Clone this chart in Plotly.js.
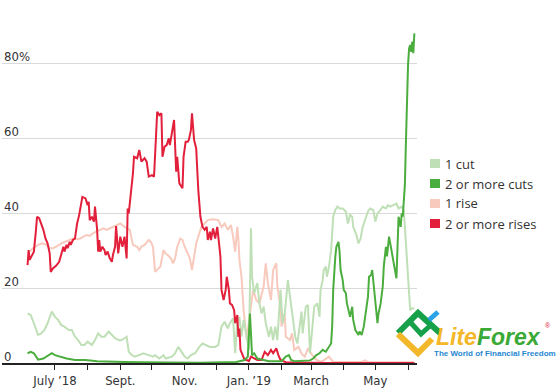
<!DOCTYPE html>
<html>
<head>
<meta charset="utf-8">
<script src="https://cdn.plot.ly/plotly-3.0.1.min.js"></script>
<style>html,body{margin:0;padding:0;background:#fff}#chart{width:557px;height:392px}</style>
</head>
<body>
<div id="chart"></div>
<script>
// ---- Data ----
const seriesNames = ["1 cut", "2 or more cuts", "1 rise", "2 or more rises"];
const seriesColors = ["#bfe0b6", "#4bad3e", "#f8c9bd", "#e2203b"];

const cut1Dates = ["2018-06-05","2018-06-08","2018-06-11","2018-06-15","2018-06-18","2018-06-21","2018-06-24","2018-06-27","2018-06-28","2018-07-01","2018-07-04","2018-07-07","2018-07-10","2018-07-14","2018-07-17","2018-07-20","2018-07-23","2018-07-26","2018-07-29","2018-08-01","2018-08-05","2018-08-08","2018-08-11","2018-08-14","2018-08-17","2018-08-21","2018-08-24","2018-08-27","2018-08-31","2018-09-02","2018-09-05","2018-09-07","2018-09-09","2018-09-12","2018-09-15","2018-09-18","2018-09-23","2018-09-28","2018-10-02","2018-10-04","2018-10-08","2018-10-12","2018-10-14","2018-10-20","2018-10-23","2018-10-26","2018-10-30","2018-11-01","2018-11-04","2018-11-07","2018-11-11","2018-11-15","2018-11-18","2018-11-22","2018-11-25","2018-11-30","2018-12-03","2018-12-06","2018-12-09","2018-12-12","2018-12-14","2018-12-17","2018-12-19","2018-12-21","2018-12-23","2018-12-25","2018-12-27","2018-12-30","2019-01-01","2019-01-03","2019-01-04","2019-01-06","2019-01-09","2019-01-11","2019-01-13","2019-01-15","2019-01-17","2019-01-20","2019-01-22","2019-01-24","2019-01-26","2019-01-28","2019-01-31","2019-02-02","2019-02-04","2019-02-07","2019-02-09","2019-02-12","2019-02-14","2019-02-16","2019-02-18","2019-02-20","2019-02-21","2019-02-23","2019-02-24","2019-02-26","2019-02-28","2019-03-02","2019-03-04","2019-03-07","2019-03-09","2019-03-10","2019-03-12","2019-03-13","2019-03-15","2019-03-16","2019-03-18","2019-03-20","2019-03-22","2019-03-24","2019-03-26","2019-03-28","2019-03-31","2019-04-03","2019-04-05","2019-04-07","2019-04-09","2019-04-10","2019-04-13","2019-04-15","2019-04-17","2019-04-19","2019-04-22","2019-04-24","2019-04-26","2019-04-29","2019-05-01","2019-05-03","2019-05-06","2019-05-08","2019-05-11","2019-05-13","2019-05-15","2019-05-18","2019-05-21","2019-05-23","2019-05-26","2019-05-28","2019-05-30","2019-06-02","2019-06-03","2019-06-05","2019-06-07"];
const cut1Values = [13.2,12.8,10.6,7.5,7.9,8.8,10.6,13.2,13.7,12.3,11.5,10.1,9.7,8.8,8.8,7.0,6.1,4.8,4.8,5.7,4.8,6.1,7.9,7.0,7.0,8.4,7.5,6.6,6.1,6.1,6.6,7.0,3.0,2.1,1.7,2.1,2.6,2.1,1.7,2.1,1.2,2.1,1.2,1.7,2.6,4.3,2.6,1.7,1.2,2.1,2.6,4.3,5.2,4.8,4.3,4.3,4.8,9.7,11.0,9.2,10.6,11.9,2.6,11.5,12.3,7.0,11.5,7.0,3.5,35.9,23.0,18.6,21.3,15.9,13.2,15.0,10.6,7.0,9.7,6.1,9.7,6.1,19.5,10.6,13.2,22.1,17.7,11.5,7.0,5.2,10.0,13.7,7.9,13.2,15.0,15.5,2.6,8.8,15.0,15.9,12.3,19.5,22.1,24.8,25.7,23.0,25.7,30.1,39.0,40.8,41.7,41.2,41.2,40.4,37.2,39.5,39.0,36.3,34.1,31.9,33.2,36.3,39.0,40.4,41.2,40.8,37.7,39.9,40.8,41.7,41.2,42.1,41.7,42.1,42.5,41.2,41.7,40.8,31.0,19.5,14.1,14.6,14.6];

const cut2Dates = ["2018-06-05","2018-06-08","2018-06-11","2018-06-13","2018-06-15","2018-06-20","2018-06-25","2018-06-28","2018-07-01","2018-07-06","2018-07-12","2018-07-20","2018-07-30","2018-08-10","2018-08-25","2018-09-05","2018-09-20","2018-10-15","2018-11-15","2018-12-10","2018-12-20","2018-12-28","2018-12-31","2019-01-02","2019-01-03","2019-01-04","2019-01-06","2019-01-09","2019-01-15","2019-01-20","2019-02-01","2019-02-05","2019-02-08","2019-02-10","2019-02-13","2019-02-20","2019-02-28","2019-03-03","2019-03-06","2019-03-09","2019-03-12","2019-03-15","2019-03-17","2019-03-20","2019-03-21","2019-03-22","2019-03-24","2019-03-25","2019-03-27","2019-03-28","2019-03-29","2019-03-31","2019-04-01","2019-04-03","2019-04-04","2019-04-06","2019-04-07","2019-04-09","2019-04-10","2019-04-12","2019-04-15","2019-04-16","2019-04-18","2019-04-20","2019-04-22","2019-04-24","2019-04-25","2019-04-27","2019-04-28","2019-04-30","2019-05-01","2019-05-03","2019-05-04","2019-05-06","2019-05-08","2019-05-09","2019-05-11","2019-05-12","2019-05-14","2019-05-15","2019-05-17","2019-05-19","2019-05-21","2019-05-22","2019-05-23","2019-05-25","2019-05-26","2019-05-27","2019-05-28","2019-05-29","2019-05-30","2019-05-31","2019-06-01","2019-06-02","2019-06-03","2019-06-04","2019-06-05","2019-06-06","2019-06-07"];
const cut2Values = [2.6,3.0,2.6,1.7,0.9,1.2,2.1,2.6,2.1,1.7,1.2,0.8,0.8,0.5,0.5,0.3,0.2,0.1,0.1,0.2,0.3,0.8,1.7,13.2,7.0,2.1,2.6,1.2,0.8,0.5,0.5,1.7,2.1,0.8,0.5,0.6,0.7,1.2,2.1,2.6,3.5,3.0,3.9,5.2,9.7,19.5,28.4,31.0,32.3,29.7,24.8,22.1,19.5,18.6,15.9,13.2,12.3,15.0,11.5,8.8,7.5,8.4,7.5,9.7,13.2,17.7,23.0,23.5,24.8,19.5,15.0,10.6,13.2,15.9,20.4,25.7,31.0,28.4,33.7,31.9,28.4,25.7,22.6,31.9,39.0,36.3,39.9,39.0,45.2,47.5,59.0,72.3,79.5,83.9,84.8,83.0,85.7,82.6,87.9];

const rise1Dates = ["2018-06-07","2018-06-10","2018-06-15","2018-06-19","2018-06-23","2018-06-26","2018-06-29","2018-07-02","2018-07-07","2018-07-10","2018-07-15","2018-07-18","2018-07-22","2018-07-25","2018-07-28","2018-07-31","2018-08-03","2018-08-06","2018-08-09","2018-08-13","2018-08-16","2018-08-19","2018-08-22","2018-08-25","2018-08-29","2018-09-01","2018-09-05","2018-09-10","2018-09-13","2018-09-17","2018-09-19","2018-09-21","2018-09-24","2018-09-28","2018-09-30","2018-10-02","2018-10-04","2018-10-07","2018-10-09","2018-10-12","2018-10-14","2018-10-16","2018-10-19","2018-10-21","2018-10-23","2018-10-25","2018-10-28","2018-10-30","2018-11-01","2018-11-04","2018-11-06","2018-11-08","2018-11-10","2018-11-12","2018-11-15","2018-11-17","2018-11-20","2018-11-23","2018-11-28","2018-12-03","2018-12-06","2018-12-09","2018-12-12","2018-12-15","2018-12-17","2018-12-19","2018-12-21","2018-12-22","2018-12-23","2018-12-25","2018-12-27","2018-12-28","2018-12-30","2019-01-02","2019-01-05","2019-01-08","2019-01-11","2019-01-15","2019-01-17","2019-01-19","2019-01-22","2019-01-24","2019-01-27","2019-01-28","2019-01-31","2019-02-01","2019-02-04","2019-02-05","2019-02-09","2019-02-11","2019-02-13","2019-02-17","2019-02-20","2019-02-23","2019-02-26","2019-03-01","2019-03-06","2019-03-11","2019-03-18","2019-03-22","2019-04-18","2019-04-21","2019-04-24","2019-06-07"];
const rise1Values = [29.7,30.6,31.5,31.9,31.5,30.6,30.6,31.0,31.9,32.3,32.8,33.2,33.0,33.2,33.7,34.1,33.9,34.6,35.0,35.5,35.9,35.5,35.9,36.3,36.8,37.2,36.3,35.5,31.5,31.0,30.1,31.0,31.5,32.8,32.3,31.0,24.3,25.2,25.7,30.1,29.2,28.8,27.9,26.6,27.9,31.0,33.2,32.8,31.0,29.2,27.9,24.8,28.4,31.9,34.6,36.3,37.2,38.1,38.3,38.1,36.3,37.2,35.5,36.8,33.7,29.7,36.3,33.2,27.5,23.0,14.1,11.5,6.1,13.2,19.5,16.8,15.9,20.4,26.6,21.3,16.8,24.8,26.6,20.4,15.0,9.7,13.2,7.0,6.1,7.9,3.5,4.3,2.5,1.7,3.9,2.5,0.8,0.3,1.7,0.3,0.3,0.7,0.3,0.2];

const rise2Dates = ["2018-06-05","2018-06-06","2018-06-07","2018-06-09","2018-06-11","2018-06-13","2018-06-14","2018-06-16","2018-06-18","2018-06-20","2018-06-22","2018-06-24","2018-06-26","2018-06-27","2018-06-29","2018-07-02","2018-07-05","2018-07-07","2018-07-09","2018-07-10","2018-07-12","2018-07-13","2018-07-15","2018-07-16","2018-07-18","2018-07-20","2018-07-22","2018-07-24","2018-07-26","2018-07-27","2018-07-30","2018-08-01","2018-08-02","2018-08-03","2018-08-05","2018-08-07","2018-08-08","2018-08-10","2018-08-11","2018-08-12","2018-08-13","2018-08-15","2018-08-17","2018-08-18","2018-08-20","2018-08-22","2018-08-24","2018-08-25","2018-08-27","2018-08-28","2018-08-30","2018-09-01","2018-09-03","2018-09-05","2018-09-07","2018-09-08","2018-09-09","2018-09-12","2018-09-13","2018-09-14","2018-09-17","2018-09-19","2018-09-21","2018-09-24","2018-09-26","2018-09-28","2018-10-01","2018-10-03","2018-10-06","2018-10-08","2018-10-10","2018-10-11","2018-10-13","2018-10-15","2018-10-17","2018-10-18","2018-10-20","2018-10-22","2018-10-24","2018-10-25","2018-10-27","2018-10-30","2018-10-31","2018-11-02","2018-11-04","2018-11-05","2018-11-07","2018-11-08","2018-11-10","2018-11-12","2018-11-14","2018-11-16","2018-11-18","2018-11-20","2018-11-22","2018-11-23","2018-11-25","2018-11-26","2018-11-28","2018-11-30","2018-12-02","2018-12-03","2018-12-05","2018-12-06","2018-12-08","2018-12-10","2018-12-11","2018-12-13","2018-12-14","2018-12-16","2018-12-18","2018-12-19","2018-12-21","2018-12-22","2018-12-23","2018-12-24","2018-12-26","2018-12-28","2018-12-30","2019-01-01","2019-01-03","2019-01-06","2019-01-09","2019-01-13","2019-01-16","2019-01-19","2019-01-22","2019-01-24","2019-01-27","2019-01-29","2019-01-31","2019-02-05","2019-03-15","2019-06-07"];
const rise2Values = [26.1,30.1,27.5,28.8,29.7,35.5,39.0,38.6,37.2,35.5,33.2,31.9,29.2,24.3,25.2,25.9,27.0,28.8,31.0,29.7,31.5,30.6,32.3,31.5,32.8,33.2,37.2,39.5,43.5,44.3,43.9,42.1,43.0,38.1,39.0,37.7,41.7,35.5,29.7,32.8,29.7,31.0,30.1,28.8,29.7,27.9,27.0,28.8,31.0,36.5,29.2,33.7,31.0,33.7,27.9,41.2,39.9,47.0,50.6,55.0,54.6,56.8,53.7,54.6,53.7,49.7,50.1,49.7,67.0,66.1,66.6,55.0,57.7,58.1,59.9,58.1,62.1,64.8,51.0,55.0,47.9,46.6,55.0,59.0,59.0,59.5,62.1,66.6,59.5,57.2,46.1,39.0,36.3,35.5,36.3,32.8,35.0,32.8,35.9,33.2,36.3,33.7,28.4,19.5,16.8,19.5,23.0,19.5,15.9,15.5,14.1,10.6,12.8,7.0,9.2,3.5,2.1,0.8,0.8,0.5,1.7,1.2,0.8,0.8,3.0,2.1,3.5,2.6,3.9,2.1,0.8,0.2,0.0,0.0];

const yTickVals = [0, 20, 40, 60, 80];
const yTickText = ["0", "20", "40", "60", "80%"];
const xTickVals = ["2018-07-01","2018-08-01","2018-09-01","2018-10-01","2018-11-01","2018-12-01","2019-01-01","2019-02-01","2019-03-01","2019-04-01","2019-05-01","2019-06-01"];
const xTickText = ["July \u201918","","Sept.","","Nov.","","Jan. \u201919","","March","","May",""];

// ---- Build chart ----
const narrow = "'Liberation Sans Narrow', 'DejaVu Sans Condensed', 'Arial Narrow', 'Liberation Sans', sans-serif";
const drawOrder = [2, 0, 3, 1];
const xs = [cut1Dates, cut2Dates, rise1Dates, rise2Dates];
const ys = [cut1Values, cut2Values, rise1Values, rise2Values];
const traces = drawOrder.map(i => ({
  type: "scatter", mode: "lines", x: xs[i], y: ys[i], name: seriesNames[i],
  line: {color: seriesColors[i], width: 2}, showlegend: false, hoverinfo: "skip"
}));

// geometry helpers (plot area: x 2..417 px, y 26..363 px)
const L = 2, R = 140, T = 26, B = 29, W = 557, H = 392;
const pw = W - L - R, ph = H - T - B;
const px = v => (v - L) / pw;
const py = v => (H - B - v) / ph;

const shapes = [];
const annotations = [];

// y-axis labels sitting just above each gridline
yTickVals.forEach((v, i) => {
  annotations.push({xref: "paper", yref: "y", x: 0, y: v, xanchor: "left", yanchor: "middle", yshift: 6.5,
    text: yTickText[i], showarrow: false, font: {family: narrow, size: 13, color: "#333"}});
});

seriesNames.forEach((n, i) => {
  const cy = 163.5 + 20 * i;
  shapes.push({type: "rect", xref: "paper", yref: "paper", x0: px(430), x1: px(440), y0: py(cy + 4.5), y1: py(cy - 4.5),
    fillcolor: seriesColors[i], line: {width: 0}});
  annotations.push({xref: "paper", yref: "paper", x: px(443), y: py(cy), xanchor: "left", yanchor: "middle",
    text: n, showarrow: false, font: {family: "'Open Sans', sans-serif", size: 13, color: "#333"}});
});

// LiteForex watermark
const seg = (pts) => "M" + pts.map(p => px(p[0]) + "," + py(p[1])).join("L");
shapes.push({type: "path", xref: "paper", yref: "paper", path: seg([[398,333],[418,313],[440,333]]), line: {color: "#16a04a", width: 6}});
shapes.push({type: "path", xref: "paper", yref: "paper", path: seg([[411,323],[421,334],[432,324]]), line: {color: "#16a04a", width: 5}});
shapes.push({type: "path", xref: "paper", yref: "paper", path: seg([[398,334],[418,353],[432,339]]), line: {color: "#f3b72a", width: 6}});
shapes.push({type: "path", xref: "paper", yref: "paper", path: seg([[429,320],[438,312]]), line: {color: "#29a3e6", width: 5}});
annotations.push({xref: "paper", yref: "paper", x: px(434), y: py(337), xanchor: "left", yanchor: "middle", showarrow: false,
  text: "<i><b><span style='color:#f3b72a'>Lite</span><span style='color:#3aa935'>Forex</span></b></i>",
  font: {family: "'Liberation Sans', Arial, sans-serif", size: 23}});
annotations.push({xref: "paper", yref: "paper", x: px(548), y: py(331), xanchor: "center", yanchor: "bottom", showarrow: false,
  text: "\u00AE", font: {family: "'Liberation Sans', sans-serif", size: 7, color: "#e2203b"}});
annotations.push({xref: "paper", yref: "paper", x: px(432), y: py(353), xanchor: "left", yanchor: "middle", showarrow: false,
  text: "<b>The World of Financial Freedom</b>", font: {family: "'Liberation Sans', Arial, sans-serif", size: 8, color: "#1f86cf"}});

const layout = {
  width: W, height: H,
  margin: {l: L, r: R, t: T, b: B, pad: 0},
  paper_bgcolor: "#fff", plot_bgcolor: "#fff",
  showlegend: false,
  xaxis: {
    type: "date", range: ["2018-05-11 18:00", "2019-06-09 12:00"],
    tickmode: "array", tickvals: xTickVals, ticktext: xTickText,
    ticks: "outside", ticklen: 5, tickwidth: 1, tickcolor: "#222",
    showline: true, linecolor: "#222", linewidth: 1.5,
    showgrid: false, zeroline: false,
    tickfont: {family: narrow, size: 13, color: "#333"}
  },
  yaxis: {
    range: [0, ph / 3.75], tickmode: "array", tickvals: yTickVals,
    showticklabels: false, ticks: "", showline: false, zeroline: false,
    showgrid: true, gridcolor: "#d9d9d9", gridwidth: 1
  },
  shapes: shapes, annotations: annotations
};

Plotly.newPlot("chart", traces, layout, {displayModeBar: false, staticPlot: true});
</script>
</body>
</html>
